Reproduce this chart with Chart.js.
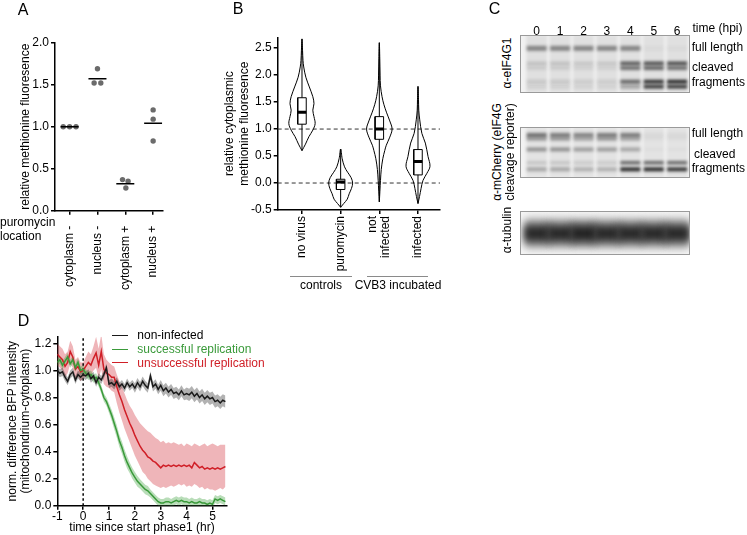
<!DOCTYPE html>
<html>
<head>
<meta charset="utf-8">
<script src="https://cdn.jsdelivr.net/npm/chart.js@4.4.1/dist/chart.umd.min.js"></script>
<style>
  body { margin: 0; background: #fff; font-family: 'Liberation Sans', Arial, sans-serif; }
  #fig { position: relative; width: 747px; height: 535px; overflow: hidden; }
  canvas { position: absolute; }
  .t { position: absolute; white-space: nowrap; font-size: 12px; line-height: 14px; color: #000; }
  .rule { position: absolute; height: 0; }
</style>
</head>
<body>
<div id="fig">
  <canvas id="chartA" width="180" height="300" style="left:0;top:0"></canvas>
  <canvas id="chartB" width="240" height="300" style="left:215px;top:0"></canvas>
  <canvas id="blot1" width="180" height="86" style="left:515px;top:10px"></canvas>
  <canvas id="blot2" width="180" height="56" style="left:515px;top:125px"></canvas>
  <canvas id="blot3" width="180" height="49" style="left:515px;top:209px"></canvas>
  <canvas id="chartD" width="240" height="217" style="left:0;top:318px"></canvas>
</div>
<script>
// ---- A: methionine fluorescence per location ----
const catA = ['cytoplasm -', 'nucleus -', 'cytoplasm +', 'nucleus +'];
const dotsA = [[1.00, 1.00, 1.00], [1.69, 1.52, 1.52], [0.37, 0.27, 0.35], [1.20, 1.09, 0.83]];
const meanA = [1.00, 1.57, 0.32, 1.04];
const ticksAy = [0, 0.5, 1.0, 1.5, 2.0];

// ---- B: violins ----
const catB = ['no virus', 'puromycin', ['not', 'infected'], 'infected'];
const violinLevels = [
  [0.60, 0.72, 0.86, 0.98, 1.10, 1.23, 1.35, 1.47, 1.60, 1.78, 1.96, 2.15, 2.27, 2.45, 2.67],
  [-0.45, -0.38, -0.30, -0.20, -0.10, 0.00, 0.10, 0.20, 0.30, 0.45, 0.63],
  [-0.35, -0.15, 0.05, 0.25, 0.45, 0.60, 0.70, 0.85, 1.00, 1.15, 1.30, 1.45, 1.60, 1.80, 2.00, 2.30, 2.60],
  [-0.38, -0.25, -0.10, 0.05, 0.18, 0.31, 0.49, 0.74, 0.92, 1.17, 1.35, 1.55, 1.79]
];
const violinWidths = [
  [0, 0.09, 0.18, 0.28, 0.34, 0.31, 0.28, 0.31, 0.28, 0.19, 0.10, 0.045, 0.026, 0.015, 0],
  [0, 0.08, 0.17, 0.22, 0.28, 0.31, 0.27, 0.18, 0.10, 0.04, 0],
  [0, 0.015, 0.03, 0.05, 0.09, 0.14, 0.18, 0.27, 0.33, 0.27, 0.19, 0.12, 0.07, 0.03, 0.02, 0.012, 0],
  [0, 0.04, 0.08, 0.13, 0.23, 0.31, 0.26, 0.19, 0.10, 0.045, 0.02, 0.013, 0]
];
const q1B = [1.09, -0.12, 0.81, 0.15];
const q3B = [1.58, 0.07, 1.23, 0.62];
const medianB = [1.31, 0.02, 1.00, 0.40];
const minB = [0.60, -0.45, -0.35, -0.38];
const maxB = [2.67, 0.63, 2.60, 1.79];
const refLinesB = [1.0, 0.0];
const ticksBy = [-0.5, 0, 0.5, 1.0, 1.5, 2.0, 2.5];

// ---- C: western blots (band position in % of blot height, darkness per lane) ----
const lanesC = ['0', '1', '2', '3', '4', '5', '6'];
const eif4gBandPos = [23, 49, 57, 80.5, 89];
const eif4gBands = [
  [0.45, 0.45, 0.45, 0.45, 0.45, 0.03, 0.03],
  [0.15, 0.15, 0.12, 0.12, 0.65, 0.70, 0.72],
  [0.10, 0.10, 0.08, 0.08, 0.55, 0.60, 0.55],
  [0.12, 0.12, 0.10, 0.10, 0.60, 0.85, 0.90],
  [0.08, 0.08, 0.07, 0.07, 0.30, 0.80, 0.80]
];
const reporterBandPos = [16, 23.5, 44, 70, 83];
const reporterBands = [
  [0.55, 0.50, 0.45, 0.50, 0.50, 0.05, 0.05],
  [0.35, 0.35, 0.30, 0.35, 0.30, 0.03, 0.03],
  [0.40, 0.40, 0.35, 0.35, 0.30, 0.02, 0.02],
  [0.15, 0.15, 0.12, 0.12, 0.60, 0.60, 0.60],
  [0.30, 0.30, 0.25, 0.25, 0.90, 0.90, 0.85]
];
const tubulinBandPos = [51, 51];
const tubulinBands = [
  [0.45, 0.45, 0.50, 0.45, 0.45, 0.45, 0.45],
  [0.85, 0.85, 0.90, 0.85, 0.85, 0.85, 0.85]
];

// ---- D: BFP intensity time course ----
const timeHr = [
  -1.0, -0.9, -0.8, -0.7, -0.6, -0.5, -0.4, -0.3, -0.2, -0.1,
  0.0, 0.1, 0.2, 0.3, 0.4, 0.5, 0.6, 0.7, 0.8, 0.9,
  1.0, 1.1, 1.2, 1.3, 1.4, 1.5, 1.6, 1.7, 1.8, 1.9,
  2.0, 2.1, 2.2, 2.3, 2.4, 2.5, 2.6, 2.7, 2.8, 2.9,
  3.0, 3.1, 3.2, 3.3, 3.4, 3.5, 3.6, 3.7, 3.8, 3.9,
  4.0, 4.1, 4.2, 4.3, 4.4, 4.5, 4.6, 4.7, 4.8, 4.9,
  5.0, 5.1, 5.2, 5.3, 5.4, 5.5
];
const nonInfected = [
  1.00, 0.98, 0.99, 0.95, 0.92, 0.97, 0.99, 0.93, 0.97, 0.95,
  0.97, 0.96, 0.98, 0.94, 0.96, 0.91, 0.95, 0.93, 0.97, 1.02,
  0.90, 0.91, 0.89, 0.92, 0.88, 0.90, 0.87, 0.91, 0.88, 0.90,
  0.87, 0.91, 0.88, 0.92, 0.89, 0.87, 0.96, 0.88, 0.90, 0.86,
  0.89, 0.85, 0.87, 0.84, 0.86, 0.83, 0.84, 0.82, 0.85, 0.82,
  0.83, 0.82, 0.84, 0.81, 0.83, 0.80, 0.82, 0.79, 0.81, 0.79,
  0.80, 0.77, 0.78, 0.76, 0.78, 0.77
];
const nonInfectedErr = [
  0.03, 0.03, 0.03, 0.03, 0.03, 0.03, 0.03, 0.03, 0.03, 0.03,
  0.03, 0.03, 0.03, 0.03, 0.03, 0.03, 0.03, 0.03, 0.03, 0.03,
  0.03, 0.03, 0.03, 0.03, 0.03, 0.03, 0.03, 0.03, 0.03, 0.03,
  0.035, 0.035, 0.035, 0.035, 0.035, 0.035, 0.035, 0.035, 0.035, 0.035,
  0.04, 0.04, 0.04, 0.04, 0.04, 0.04, 0.04, 0.04, 0.04, 0.04,
  0.045, 0.045, 0.045, 0.045, 0.045, 0.045, 0.045, 0.045, 0.045, 0.045,
  0.045, 0.045, 0.045, 0.045, 0.045, 0.045
];
const successful = [
  1.06, 1.08, 1.04, 1.07, 1.10, 1.05, 1.08, 1.02, 1.06, 1.00,
  1.01, 0.98, 0.96, 0.97, 0.94, 0.95, 0.91, 0.86, 0.80, 0.77,
  0.72, 0.67, 0.61, 0.55, 0.48, 0.43, 0.37, 0.32, 0.28, 0.24,
  0.21, 0.18, 0.16, 0.14, 0.12, 0.11, 0.09, 0.07, 0.05, 0.03,
  0.02, 0.02, 0.03, 0.03, 0.02, 0.03, 0.04, 0.03, 0.04, 0.03,
  0.03, 0.02, 0.03, 0.02, 0.02, 0.03, 0.02, 0.02, 0.01, 0.02,
  0.01, 0.05, 0.04, 0.05, 0.04, 0.03
];
const successfulErr = [
  0.03, 0.03, 0.03, 0.03, 0.03, 0.03, 0.03, 0.03, 0.03, 0.03,
  0.03, 0.03, 0.03, 0.03, 0.03, 0.03, 0.03, 0.03, 0.03, 0.03,
  0.035, 0.04, 0.045, 0.045, 0.045, 0.045, 0.045, 0.045, 0.04, 0.04,
  0.04, 0.04, 0.035, 0.035, 0.035, 0.035, 0.03, 0.03, 0.03, 0.03,
  0.03, 0.03, 0.03, 0.03, 0.03, 0.03, 0.03, 0.03, 0.03, 0.03,
  0.03, 0.03, 0.03, 0.03, 0.03, 0.03, 0.03, 0.03, 0.03, 0.03,
  0.03, 0.03, 0.03, 0.03, 0.03, 0.03
];
const unsuccessful = [
  1.12, 1.10, 1.08, 1.03, 1.06, 1.14, 1.10, 1.01, 1.03, 0.99,
  1.00, 1.03, 1.06, 1.04, 1.09, 1.13, 1.04, 1.14, 1.01, 0.98,
  0.97, 0.95, 0.95, 0.88, 0.82, 0.77, 0.71, 0.66, 0.61, 0.57,
  0.52, 0.48, 0.44, 0.41, 0.39, 0.36, 0.35, 0.33, 0.32, 0.30,
  0.28, 0.30, 0.29, 0.30, 0.29, 0.30, 0.29, 0.30, 0.29, 0.30,
  0.29, 0.30, 0.28, 0.32, 0.30, 0.28, 0.29, 0.27, 0.28, 0.27,
  0.28, 0.27, 0.28, 0.27, 0.28, 0.29
];
const unsuccessfulHigh = [
  1.20, 1.18, 1.16, 1.12, 1.14, 1.22, 1.18, 1.08, 1.10, 1.06,
  1.06, 1.10, 1.14, 1.12, 1.18, 1.25, 1.16, 1.27, 1.12, 1.08,
  1.06, 1.04, 1.03, 0.97, 0.92, 0.88, 0.83, 0.78, 0.74, 0.71,
  0.67, 0.64, 0.61, 0.59, 0.57, 0.55, 0.54, 0.52, 0.50, 0.49,
  0.47, 0.48, 0.46, 0.47, 0.46, 0.47, 0.46, 0.45, 0.46, 0.44,
  0.46, 0.45, 0.44, 0.46, 0.45, 0.44, 0.45, 0.46, 0.44, 0.45,
  0.46, 0.45, 0.44, 0.45, 0.45, 0.45
];
const unsuccessfulLow = [
  1.04, 1.02, 1.00, 0.95, 0.98, 1.05, 1.02, 0.94, 0.96, 0.92,
  0.94, 0.96, 0.98, 0.96, 1.00, 1.02, 0.94, 1.01, 0.90, 0.88,
  0.87, 0.85, 0.84, 0.76, 0.69, 0.63, 0.57, 0.52, 0.47, 0.42,
  0.37, 0.33, 0.29, 0.25, 0.23, 0.20, 0.18, 0.16, 0.15, 0.14,
  0.13, 0.14, 0.13, 0.14, 0.15, 0.14, 0.15, 0.16, 0.15, 0.16,
  0.14, 0.15, 0.14, 0.16, 0.15, 0.13, 0.14, 0.12, 0.13, 0.12,
  0.12, 0.11, 0.12, 0.13, 0.12, 0.14
];
const ticksDx = [-1, 0, 1, 2, 3, 4, 5];
const ticksDy = [0, 0.2, 0.4, 0.6, 0.8, 1.0, 1.2];

// ---- shared look ----
Chart.defaults.font.family = "'Liberation Sans', Arial, sans-serif";
Chart.defaults.font.size = 12;
Chart.defaults.color = '#000';
Chart.defaults.animation = false;
Chart.defaults.plugins.legend.display = false;
Chart.defaults.plugins.tooltip.enabled = false;
Chart.defaults.layout.autoPadding = false;

const axisBorder = { color: '#000', width: 1.5 };
const axisGrid = { drawOnChartArea: false, color: '#000', lineWidth: 1.5, tickLength: 4, offset: false };
const oneDec = v => (Math.round(v * 10) / 10).toFixed(1);
const fixTicks = list => s => { s.ticks = list.map(v => ({ value: v })); };

// ---- A ----
const jitterA = [[-0.23, 0, 0.23], [0, -0.12, 0.12], [-0.1, 0.02, 0.1], [0, 0, 0]];
new Chart(document.getElementById('chartA'), {
  type: 'scatter',
  data: { datasets: [
    { data: meanA.map((v, i) => ({ x: i + 1, y: v })), pointStyle: 'line', pointRadius: 9,
      pointBorderColor: '#000', pointBorderWidth: 1.5, order: 1 },
    { data: dotsA.flatMap((g, i) => g.map((v, j) => ({ x: i + 1 + jitterA[i][j], y: v }))),
      pointRadius: 2.7, pointBackgroundColor: '#6b6b6b', pointBorderWidth: 0, order: 2 }
  ]},
  options: {
    responsive: false,
    layout: { padding: { top: 42.7, right: 17, left: 0, bottom: 0 } },
    scales: {
      x: { type: 'linear', min: 0.475, max: 4.33, bounds: 'data', offset: false, border: axisBorder, grid: axisGrid,
        afterBuildTicks: fixTicks(catA.map((c, i) => i + 1)),
        ticks: { callback: v => catA[v - 1], minRotation: 90, maxRotation: 90, padding: 11, autoSkip: false },
        afterFit: s => { s.height = 89.3; } },
      y: { min: 0, max: 2, bounds: 'data', border: axisBorder, grid: axisGrid,
        afterBuildTicks: fixTicks(ticksAy),
        ticks: { callback: oneDec, padding: 2 },
        title: { display: true, text: 'relative methionine fluoresence', padding: { top: 18, bottom: 0 } },
        afterFit: s => { s.width = 55; } }
    }
  }
});

// ---- B ----
const bMin = 0.372, bMax = 4.569, boxHalf = 0.11, lineStep = 0.35;
// one tick per group; two-line group names get a label tick per line, the group tick keeps the mark
const tickItemsB = [];
catB.forEach((c, i) => {
  if (Array.isArray(c)) {
    tickItemsB.push({ value: i + 1, label: '', mark: true });
    c.forEach((line, k) => tickItemsB.push({ value: i + 1 + (k - (c.length - 1) / 2) * lineStep, label: line, mark: false }));
  } else {
    tickItemsB.push({ value: i + 1, label: c, mark: true });
  }
});
tickItemsB.sort((a, b) => a.value - b.value);

const dsB = [];
refLinesB.forEach(v => dsB.push({ data: [{ x: bMin, y: v }, { x: bMax, y: v }], borderColor: '#333',
  borderWidth: 1, borderDash: [4, 3], pointRadius: 0, order: 6 }));
violinLevels.forEach((lv, i) => {
  const right = lv.map((v, k) => ({ x: i + 1 + violinWidths[i][k], y: v }));
  const left = lv.map((v, k) => ({ x: i + 1 - violinWidths[i][k], y: v })).reverse().slice(1);
  dsB.push({ data: right.concat(left), borderColor: '#000', borderWidth: 1, pointRadius: 0, tension: 0.35, order: 5 });
  dsB.push({ data: [{ x: i + 1, y: minB[i] }, { x: i + 1, y: q1B[i] }, { x: i + 1, y: null },
    { x: i + 1, y: q3B[i] }, { x: i + 1, y: maxB[i] }], borderColor: '#000', borderWidth: 1, pointRadius: 0, order: 4 });
  const x0 = i + 1 - boxHalf, x1 = i + 1 + boxHalf;
  dsB.push({ data: [{ x: x0, y: q1B[i] }, { x: x1, y: q1B[i] }, { x: x1, y: q3B[i] }, { x: x0, y: q3B[i] }, { x: x0, y: q1B[i] }],
    borderColor: '#000', borderWidth: 1, pointRadius: 0, order: 3 });
});
dsB.push({ data: medianB.map((v, i) => ({ x: i + 1, y: v })), showLine: false, pointStyle: 'line',
  pointRadius: 4.3, pointBorderColor: '#000', pointBorderWidth: 3, order: 1 });

new Chart(document.getElementById('chartB'), {
  type: 'scatter',
  data: { datasets: dsB.map(d => Object.assign({ showLine: d.showLine !== false }, d)) },
  options: {
    responsive: false,
    layout: { padding: { top: 37.3, right: 15, left: 0, bottom: 0 } },
    scales: {
      x: { type: 'linear', min: bMin, max: bMax, bounds: 'data', offset: false, border: axisBorder,
        grid: Object.assign({}, axisGrid, { color: c => (tickItemsB[c.index] && !tickItemsB[c.index].mark) ? 'rgba(0,0,0,0)' : '#000' }),
        afterBuildTicks: fixTicks(tickItemsB.map(t => t.value)),
        ticks: { callback: (v, idx) => tickItemsB[idx].label, minRotation: 90, maxRotation: 90, padding: 2, autoSkip: false },
        afterFit: s => { s.height = 90; } },
      y: { min: -0.5, max: 2.7, bounds: 'data', border: axisBorder, grid: axisGrid,
        afterBuildTicks: fixTicks(ticksBy),
        ticks: { callback: oneDec, padding: 2 },
        title: { display: true, text: ['relative cytoplasmic', 'methionine fluoresence'], padding: { top: 7.8, bottom: 0 } },
        afterFit: s => { s.width = 62.7; } }
    }
  }
});

// ---- C ----
const blotLook = {
  id: 'blot',
  beforeDraw(chart, args, o) {
    const { ctx, chartArea: a } = chart;
    ctx.save(); ctx.fillStyle = o.bg; ctx.fillRect(a.left, a.top, a.width, a.height); ctx.restore();
  },
  beforeDatasetsDraw(chart, args, o) { chart.ctx.save(); chart.ctx.filter = 'blur(' + o.blur + 'px)'; },
  afterDatasetsDraw(chart) { chart.ctx.restore(); },
  afterDraw(chart) {
    const { ctx, chartArea: a } = chart;
    ctx.save(); ctx.strokeStyle = '#9a9a9a'; ctx.lineWidth = 1;
    ctx.strokeRect(Math.round(a.left) + 0.5, Math.round(a.top) + 0.5, Math.round(a.width) - 1, Math.round(a.height) - 1);
    ctx.restore();
  }
};

function blot(id, pos, levels, thick, opts) {
  const smear = { data: lanesC.map((l, k) => ({ x: k, y: 50 })), pointStyle: 'line', pointRadius: 10.5,
    pointBorderWidth: opts.areaH, pointBorderColor: 'rgba(0,0,0,' + opts.smear + ')', clip: 0 };
  const bands = levels.map((row, r) => ({
    data: lanesC.map((l, k) => ({ x: k, y: pos[r] })), pointStyle: 'line', pointRadius: opts.radius || 10,
    pointBorderWidth: thick[r], pointBorderColor: row.map(a => 'rgba(25,25,25,' + a + ')'), clip: 0
  }));
  return new Chart(document.getElementById(id), {
    type: 'scatter',
    data: { datasets: bands.reverse().concat([smear]) },
    plugins: [blotLook],
    options: {
      responsive: false,
      layout: { autoPadding: false, padding: { left: 5, right: 5, top: opts.top, bottom: 3 } },
      plugins: { blot: { bg: opts.bg, blur: opts.blur } },
      scales: {
        x: { type: 'linear', min: -0.714, max: 6.55, bounds: 'data', position: 'top', display: !!opts.lanes,
          offset: false, border: { display: false }, grid: { display: false, drawTicks: false, tickLength: 0 },
          afterBuildTicks: fixTicks(lanesC.map((l, k) => k)),
          ticks: { callback: v => lanesC[v], padding: -4, autoSkip: false, maxRotation: 0 },
          afterFit: s => { s.height = opts.lanes ? 25 : 0; } },
        y: { display: false, min: 0, max: 100, reverse: true, bounds: 'data' }
      }
    }
  });
}
blot('blot1', eif4gBandPos, eif4gBands, [5, 4, 4, 4, 4], { top: 0, lanes: true, areaH: 58, bg: '#f2f2f2', smear: 0.07, blur: 1.6 });
blot('blot2', reporterBandPos, reporterBands, [4.5, 3.5, 4, 3.5, 4], { top: 2, areaH: 51, bg: '#f2f2f2', smear: 0.06, blur: 1.5 });
blot('blot3', tubulinBandPos, tubulinBands, [28, 15], { top: 2, areaH: 44, bg: '#f7f7f7', smear: 0.03, blur: 3.5, radius: 12.5 });

// ---- D ----
const pts = ys => timeHr.map((t, i) => ({ x: t, y: ys[i] }));
const shifted = (ys, err, s) => timeHr.map((t, i) => ({ x: t, y: ys[i] + s * err[i] }));
const bandStyle = { borderWidth: 0, pointRadius: 0, tension: 0 };
new Chart(document.getElementById('chartD'), {
  type: 'line',
  data: { datasets: [
    Object.assign({ data: pts(unsuccessfulHigh), fill: '+1', backgroundColor: 'rgba(214,60,70,0.38)', order: 9 }, bandStyle),
    Object.assign({ data: pts(unsuccessfulLow), fill: false, order: 9 }, bandStyle),
    Object.assign({ data: shifted(nonInfected, nonInfectedErr, 1), fill: '+1', backgroundColor: 'rgba(0,0,0,0.3)', order: 8 }, bandStyle),
    Object.assign({ data: shifted(nonInfected, nonInfectedErr, -1), fill: false, order: 8 }, bandStyle),
    Object.assign({ data: shifted(successful, successfulErr, 1), fill: '+1', backgroundColor: 'rgba(70,165,70,0.38)', order: 7 }, bandStyle),
    Object.assign({ data: shifted(successful, successfulErr, -1), fill: false, order: 7 }, bandStyle),
    { data: [{ x: 0, y: 0 }, { x: 0, y: 1.25 }], borderColor: '#000', borderWidth: 1.5, borderDash: [2.5, 2.5], pointRadius: 0, order: 4 },
    { data: pts(unsuccessful), borderColor: '#d01f27', borderWidth: 1.5, pointRadius: 0, tension: 0, order: 3 },
    { data: pts(successful), borderColor: '#3a9a3a', borderWidth: 1.5, pointRadius: 0, tension: 0, order: 2 },
    { data: pts(nonInfected), borderColor: '#1a1a1a', borderWidth: 1.5, pointRadius: 0, tension: 0, order: 1 }
  ]},
  options: {
    responsive: false,
    layout: { padding: { top: 18.7, right: 13.3, left: 0, bottom: 0 } },
    scales: {
      x: { type: 'linear', min: -1, max: 5.55, bounds: 'data', border: axisBorder, grid: axisGrid,
        afterBuildTicks: fixTicks(ticksDx),
        ticks: { padding: 0, callback: v => String(v) },
        title: { display: true, text: 'time since start phase1 (hr)', padding: { top: 0, bottom: 0 } },
        afterFit: s => { s.height = 29.3; } },
      y: { min: 0, max: 1.25, bounds: 'data', border: axisBorder, grid: axisGrid,
        afterBuildTicks: fixTicks(ticksDy),
        ticks: { padding: 2, callback: oneDec },
        title: { display: true, text: ['norm. difference BFP intensity', '(mitochondrium-cytoplasm)'],
          font: { size: 12, lineHeight: 1.1 }, padding: { top: 5.9, bottom: 0 } },
        afterFit: s => { s.width = 57.3; } }
    }
  }
});

// ---- texts ----
const fig = document.getElementById('fig');
function txt(s, x, y, o = {}) {
  const d = document.createElement('div');
  d.className = 't';
  d.textContent = s;
  if (o.size) { d.style.fontSize = o.size + 'px'; d.style.lineHeight = (o.size + 2) + 'px'; }
  if (o.color) d.style.color = o.color;
  d.style.left = x + 'px';
  d.style.top = y + 'px';
  d.style.transform = 'translate(' + (o.left ? '0' : '-50%') + ',-50%)' + (o.rot ? ' rotate(' + o.rot + 'deg)' : '');
  fig.appendChild(d);
}
function rule(x0, x1, y, color, w) {
  const d = document.createElement('div');
  d.className = 'rule';
  d.style.left = x0 + 'px'; d.style.top = y + 'px'; d.style.width = (x1 - x0) + 'px';
  d.style.borderTop = (w || 1) + 'px solid ' + color;
  fig.appendChild(d);
}

txt('A', 23, 10, { size: 16 });
txt('B', 238, 9, { size: 16 });
txt('C', 494.5, 9, { size: 16 });
txt('D', 23.5, 321, { size: 16 });

txt('puromycin', 0, 221.7, { left: true });
txt('location', 0, 236, { left: true });

rule(290, 352, 275.5, '#8a8a8a');
rule(367, 428, 275.5, '#8a8a8a');
txt('controls', 321, 284.5);
txt('CVB3 incubated', 398, 284.5);

txt('time (hpi)', 692.5, 28.3, { left: true });
txt('full length', 691.7, 46.7, { left: true });
txt('cleaved', 692, 66.7, { left: true });
txt('fragments', 691.7, 81.7, { left: true });
txt('full length', 691.7, 132.7, { left: true });
txt('cleaved', 694, 154, { left: true });
txt('fragments', 691.7, 168.3, { left: true });
txt('α-eIF4G1', 506.5, 63.3, { rot: -90 });
txt('α-mCherry (eIF4G', 496.5, 152, { rot: -90 });
txt('cleavage reporter)', 510, 152, { rot: -90 });
txt('α-tubulin', 507, 229.5, { rot: -90 });

rule(112, 128, 334.5, '#1a1a1a', 1.5);
rule(112, 128, 348.5, '#3a9a3a', 1.5);
rule(112, 128, 362, '#d01f27', 1.5);
txt('non-infected', 137.3, 335, { left: true });
txt('successful replication', 137.3, 349.3, { left: true, color: '#3a9a3a' });
txt('unsuccessful replication', 137.3, 362.7, { left: true, color: '#d01f27' });
</script>
</body>
</html>
